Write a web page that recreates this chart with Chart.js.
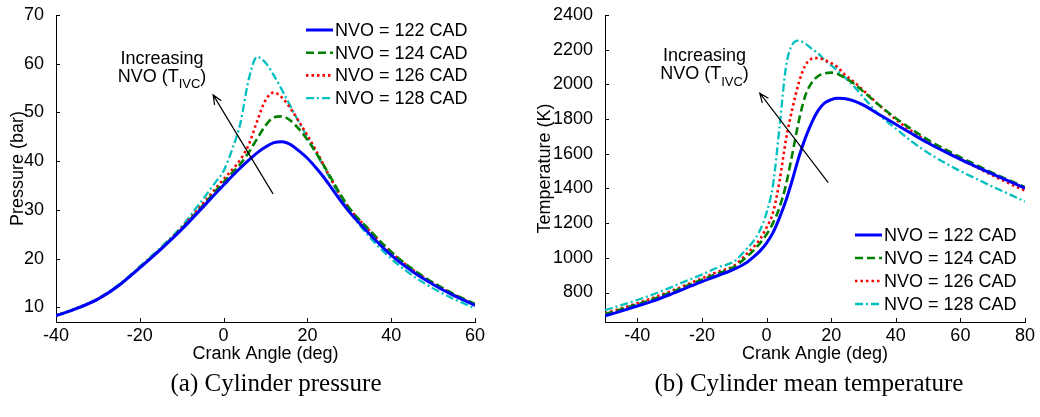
<!DOCTYPE html>
<html>
<head>
<meta charset="utf-8">
<script src="https://cdn.jsdelivr.net/npm/chart.js@4"></script>
<style>
  body { margin: 0; background: #fff; }
  #wrap { position: relative; width: 1040px; height: 417px; overflow: hidden; }
  .box { position: absolute; top: 0; width: 520px; height: 370px; }
  .caption {
    position: absolute; top: 369px; transform: translateX(-50%);
    font-family: "Liberation Serif", "Times New Roman", serif; font-size: 25px;
    color: #000; white-space: nowrap;
  }
</style>
</head>
<body>
<div id="wrap">
  <div class="box" style="left:0"><canvas id="pressure" width="520" height="370"></canvas></div>
  <div class="box" style="left:520px"><canvas id="temperature" width="520" height="370"></canvas></div>
  <div class="caption" style="left:276px">(a) Cylinder pressure</div>
  <div class="caption" style="left:809px">(b) Cylinder mean temperature</div>
</div>
<script>
// series names
const seriesLabels = ['NVO = 122 CAD', 'NVO = 124 CAD', 'NVO = 126 CAD', 'NVO = 128 CAD'];

// (a) cylinder pressure (bar) vs crank angle (deg)
const pressureAngles = [-40, -35, -30, -25, -20, -15, -10, -6, -2, 0, 2, 4, 6, 8, 10, 12, 14, 16, 18, 20, 22, 24, 26, 28, 30, 35, 40, 45, 50, 55, 60];
const pressure122 = [8.3, 9.8, 11.7, 14.5, 18.1, 21.9, 26.0, 29.6, 33.3, 35.1, 36.9, 38.6, 40.2, 41.7, 42.9, 43.8, 44.0, 43.4, 42.1, 40.6, 38.7, 36.6, 34.2, 31.8, 29.6, 24.9, 20.7, 17.4, 14.7, 12.4, 10.4];
const pressure124 = [8.3, 9.8, 11.7, 14.5, 18.2, 22.0, 26.2, 29.9, 33.8, 35.7, 37.6, 39.4, 41.8, 44.6, 47.3, 49.0, 49.2, 48.3, 46.6, 44.4, 41.8, 39.0, 36.0, 33.0, 30.4, 25.7, 21.4, 17.9, 15.1, 12.7, 10.7];
const pressure126 = [8.3, 9.8, 11.7, 14.5, 18.2, 22.0, 26.3, 30.2, 34.3, 36.3, 38.2, 40.3, 43.4, 48.2, 52.5, 54.1, 53.0, 50.8, 48.1, 45.3, 42.3, 39.0, 35.8, 32.8, 30.3, 25.6, 21.3, 17.8, 15.0, 12.6, 10.5];
const pressure128 = [8.3, 9.9, 11.8, 14.7, 18.4, 22.3, 26.6, 31.0, 35.6, 38.0, 42.3, 47.8, 56.8, 61.4, 60.2, 57.6, 54.5, 51.2, 48.0, 44.9, 41.8, 38.7, 35.5, 32.5, 29.7, 24.3, 20.0, 16.6, 13.9, 11.7, 9.8];
const pressureTicksX = [-40, -20, 0, 20, 40, 60];
const pressureTicksY = [10, 20, 30, 40, 50, 60, 70];

// (b) cylinder mean temperature (K) vs crank angle (deg)
const tempAngles = [-50, -45, -40, -35, -30, -25, -20, -15, -10, -6, -4, -2, 0, 2, 4, 6, 8, 10, 12, 14, 16, 18, 20, 22, 24, 27, 30, 35, 40, 45, 50, 55, 60, 65, 70, 75, 80];
const temp122 = [665, 693, 722, 752, 787, 825, 863, 898, 935, 975, 1005, 1040, 1085, 1145, 1230, 1330, 1450, 1580, 1690, 1780, 1850, 1893, 1912, 1920, 1918, 1905, 1880, 1825, 1770, 1715, 1662, 1614, 1568, 1525, 1483, 1442, 1402];
const temp124 = [675, 703, 732, 763, 798, 836, 874, 910, 948, 1008, 1043, 1085, 1135, 1200, 1290, 1420, 1600, 1790, 1935, 2010, 2048, 2064, 2068, 2060, 2040, 2005, 1958, 1878, 1805, 1740, 1680, 1628, 1580, 1535, 1490, 1448, 1408];
const temp126 = [680, 708, 738, 770, 805, 843, 882, 920, 955, 1025, 1062, 1108, 1175, 1260, 1440, 1680, 1860, 2010, 2110, 2148, 2152, 2140, 2122, 2100, 2060, 2015, 1965, 1878, 1798, 1730, 1670, 1618, 1570, 1522, 1475, 1430, 1388];
const temp128 = [698, 727, 757, 790, 827, 866, 903, 945, 980, 1055, 1098, 1160, 1260, 1420, 1750, 2100, 2230, 2252, 2235, 2205, 2178, 2140, 2110, 2080, 2045, 1990, 1925, 1822, 1745, 1670, 1605, 1550, 1500, 1455, 1410, 1368, 1325];
const tempTicksX = [-40, -20, 0, 20, 40, 60, 80];
const tempTicksY = [800, 1000, 1200, 1400, 1600, 1800, 2000, 2200, 2400];

// matlab-ish line styles
const lineColors = ['#0000ff', '#008000', '#ff0000', '#00bfbf'];
const lineDashes = [[], [8, 4], [2.5, 3], [8, 3, 2, 3]];
const lineWidths = [3, 2.6, 2.6, 2.3];

const FONT = '"Liberation Sans", Arial, Helvetica, sans-serif';

// ticks pointing into the plot, like matlab
const inwardTicks = {
    id: 'inwardTicks',
    afterDraw(chart) {
        const ctx = chart.ctx;
        const { left, bottom } = chart.chartArea;
        const xs = chart.scales.x, ys = chart.scales.y;
        ctx.save();
        ctx.strokeStyle = '#000';
        ctx.lineWidth = 1;
        ctx.beginPath();
        xs.ticks.forEach(t => {
            const px = Math.round(xs.getPixelForValue(t.value)) + 0.5;
            ctx.moveTo(px, bottom);
            ctx.lineTo(px, bottom - 4);
        });
        ys.ticks.forEach(t => {
            const py = Math.round(ys.getPixelForValue(t.value)) + 0.5;
            ctx.moveTo(left, py);
            ctx.lineTo(left + 4, py);
        });
        ctx.stroke();
        ctx.restore();
    }
};

// legend drawn inside the axes
const boxLegend = {
    id: 'boxLegend',
    afterDatasetsDraw(chart, args, opts) {
        const ctx = chart.ctx;
        ctx.save();
        ctx.font = '18px ' + FONT;
        ctx.textBaseline = 'middle';
        ctx.textAlign = 'left';
        chart.data.datasets.forEach((ds, i) => {
            const y = opts.y + i * opts.gap;
            ctx.strokeStyle = ds.borderColor;
            ctx.lineWidth = ds.borderWidth;
            ctx.setLineDash(ds.borderDash);
            ctx.beginPath();
            ctx.moveTo(opts.x, y);
            ctx.lineTo(opts.x + 27, y);
            ctx.stroke();
            ctx.setLineDash([]);
            ctx.fillStyle = '#000';
            ctx.fillText(ds.label, opts.x + 29, y + 1);
        });
        ctx.restore();
    }
};

// "Increasing NVO (T_IVC)" note with arrow, positions in data units
const trendNote = {
    id: 'trendNote',
    afterDatasetsDraw(chart, args, opts) {
        const ctx = chart.ctx;
        const xs = chart.scales.x, ys = chart.scales.y;
        const cx = xs.getPixelForValue(opts.textX);
        ctx.save();
        ctx.fillStyle = '#000';
        ctx.textBaseline = 'middle';
        ctx.textAlign = 'left';
        ctx.font = '18px ' + FONT;
        const w1 = ctx.measureText('Increasing').width;
        ctx.fillText('Increasing', cx - w1 / 2, ys.getPixelForValue(opts.line1Y));

        const y2 = ys.getPixelForValue(opts.line2Y);
        const wa = ctx.measureText('NVO (T').width;
        const wc = ctx.measureText(')').width;
        ctx.font = '13px ' + FONT;
        const wb = ctx.measureText('IVC').width;
        let x0 = cx - (wa + wb + wc) / 2;
        ctx.font = '18px ' + FONT;
        ctx.fillText('NVO (T', x0, y2);
        ctx.font = '13px ' + FONT;
        ctx.fillText('IVC', x0 + wa, y2 + 8);
        ctx.font = '18px ' + FONT;
        ctx.fillText(')', x0 + wa + wb, y2);

        const tx = xs.getPixelForValue(opts.from[0]), ty = ys.getPixelForValue(opts.from[1]);
        const hx = xs.getPixelForValue(opts.to[0]), hy = ys.getPixelForValue(opts.to[1]);
        const ang = Math.atan2(hy - ty, hx - tx);
        ctx.strokeStyle = '#000';
        ctx.lineWidth = 1.2;
        ctx.beginPath();
        ctx.moveTo(tx, ty);
        ctx.lineTo(hx, hy);
        ctx.moveTo(hx - 10 * Math.cos(ang - 0.4), hy - 10 * Math.sin(ang - 0.4));
        ctx.lineTo(hx, hy);
        ctx.lineTo(hx - 10 * Math.cos(ang + 0.4), hy - 10 * Math.sin(ang + 0.4));
        ctx.stroke();
        ctx.restore();
    }
};

function makeChart(canvasId, angles, series, xMin, xMax, yMin, yMax, xTicks, yTicks, yTitle, yWidth, titlePad, padRight, legend, note) {
    const datasets = series.map((vals, i) => ({
        label: seriesLabels[i],
        data: angles.map((a, j) => ({ x: a, y: vals[j] })),
        borderColor: lineColors[i],
        borderWidth: lineWidths[i],
        borderDash: lineDashes[i],
        borderCapStyle: 'butt',
        pointRadius: 0,
        fill: false,
        cubicInterpolationMode: 'monotone'
    }));
    return new Chart(document.getElementById(canvasId), {
        type: 'line',
        data: { datasets: datasets },
        plugins: [inwardTicks, boxLegend, trendNote],
        options: {
            responsive: false,
            animation: false,
            events: [],
            layout: { padding: { top: 15, right: padRight, left: 0, bottom: 0 } },
            plugins: {
                legend: { display: false },
                tooltip: { enabled: false },
                boxLegend: legend,
                trendNote: note
            },
            scales: {
                x: {
                    type: 'linear', min: xMin, max: xMax,
                    grid: { display: false },
                    border: { display: true, color: '#000', width: 1 },
                    afterBuildTicks: s => { s.ticks = xTicks.map(v => ({ value: v })); },
                    afterFit: s => { s.height = 48; s.paddingLeft = 0; s.paddingRight = 0; },
                    ticks: { color: '#000', padding: -5, maxRotation: 0, callback: v => String(v), font: { family: FONT, size: 18 } },
                    title: { display: true, text: 'Crank Angle (deg)', color: '#000', padding: { top: 0, bottom: 5 }, font: { family: FONT, size: 18 } }
                },
                y: {
                    type: 'linear', min: yMin, max: yMax,
                    grid: { display: false },
                    border: { display: true, color: '#000', width: 1 },
                    afterBuildTicks: s => { s.ticks = yTicks.map(v => ({ value: v })); },
                    afterFit: s => { s.width = yWidth; s.paddingTop = 0; s.paddingBottom = 0; },
                    ticks: { color: '#000', padding: 4, callback: v => String(v), font: { family: FONT, size: 18 } },
                    title: { display: true, text: yTitle, color: '#000', padding: { top: titlePad, bottom: 0 }, font: { family: FONT, size: 18 } }
                }
            }
        }
    });
}

makeChart('pressure', pressureAngles, [pressure122, pressure124, pressure126, pressure128],
    -40, 60, 7, 70, pressureTicksX, pressureTicksY, 'Pressure (bar)', 56, 7, 45,
    { x: 306, y: 30, gap: 22.7 },
    { textX: -14.7, line1Y: 61.0, line2Y: 57.3, from: [11.8, 33.3], to: [-2.5, 53.6] });

makeChart('temperature', tempAngles, [temp122, temp124, temp126, temp128],
    -50, 80, 630, 2400, tempTicksX, tempTicksY, 'Temperature (K)', 85, 14, 15,
    { x: 335, y: 235, gap: 23 },
    { textX: -19.2, line1Y: 2162, line2Y: 2058, from: [19.1, 1434], to: [-2.1, 1949] });
</script>
</body>
</html>
